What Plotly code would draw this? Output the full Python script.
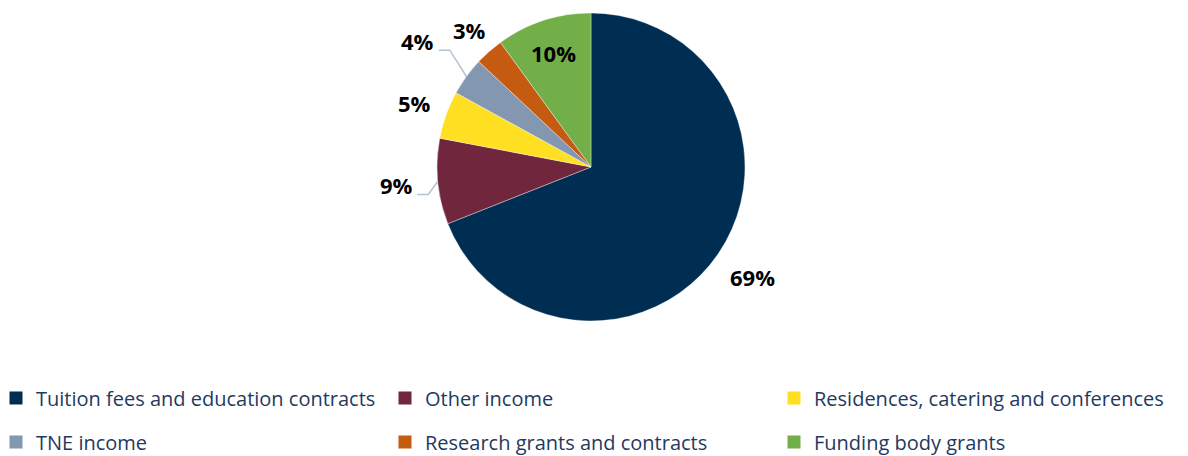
import math
import plotly.graph_objects as go

categories = ["Tuition fees and education contracts", "Other income",
              "Residences, catering and conferences", "TNE income",
              "Research grants and contracts", "Funding body grants"]
values = [69, 9, 5, 4, 3, 10]
colors = ["#002E52", "#70263D", "#FFDF22", "#8497B0", "#C55A11", "#72AF48"]

# label placement (radius factor relative to pie radius) and leader lines
label_radius = [1.27, 1.27, 1.22, 1.39, 1.19, 0.78]
has_leader = [False, True, False, True, False, False]

W, H = 1188, 456
cx, cy, r = 591, 167, 154          # pixels, from top-left

fig = go.Figure()
fig.add_trace(go.Pie(
    labels=categories, values=values, sort=False, direction="clockwise", rotation=0,
    marker=dict(colors=colors, line=dict(color="rgba(255,255,255,0.6)", width=0.6)),
    textinfo="none", showlegend=False, automargin=False,
    domain=dict(x=[(cx - r) / W, (cx + r) / W], y=[(H - cy - r) / H, (H - cy + r) / H]),
    hoverinfo="label+percent",
))

# percentage labels derived from the values
total = sum(values)
cum = 0
annotations, shapes = [], []
for v, f, lead in zip(values, label_radius, has_leader):
    theta = math.radians(360 * (cum + v / 2) / total)
    cum += v
    dx, dy = math.sin(theta), -math.cos(theta)       # screen direction (y down)
    lx, ly = cx + f * r * dx, cy + f * r * dy
    annotations.append(dict(
        x=lx / W, y=1 - ly / H, xref="paper", yref="paper", showarrow=False,
        text="<b>%d%%</b>" % round(100 * v / total),
        font=dict(family="Open Sans", size=22, color="#000000"),
        xanchor="center", yanchor="middle",
    ))
    if lead:
        sx, sy = lx + 21, ly + 9
        ex, ey = cx + r * dx, cy + r * dy
        path = "M %f,%f L %f,%f L %f,%f" % (sx / W, 1 - sy / H, (sx + 11) / W, 1 - sy / H,
                                            ex / W, 1 - ey / H)
        shapes.append(dict(type="path", path=path, xref="paper", yref="paper",
                           line=dict(color="#B4C2D2", width=1.5)))

# legend entries (two rows of three)
for i, (name, col) in enumerate(zip(categories, colors)):
    fig.add_trace(go.Scatter(
        x=[None], y=[None], mode="markers", name=name,
        marker=dict(symbol="square", size=13, color=col),
        legend="legend" if i < 3 else "legend2",
        hoverinfo="skip",
    ))

leg_common = dict(orientation="h", xanchor="left", yanchor="middle",
                  font=dict(family="Open Sans", size=20, color="#1F3A5F"),
                  entrywidth=348, entrywidthmode="pixels", indentation=-4,
                  bgcolor="rgba(0,0,0,0)", itemclick=False, itemdoubleclick=False)

fig.update_layout(
    width=W, height=H,
    margin=dict(l=0, r=0, t=0, b=0, autoexpand=False),
    paper_bgcolor="white", plot_bgcolor="white",
    xaxis=dict(visible=False), yaxis=dict(visible=False),
    legend=dict(x=0, y=1 - 398 / H, **leg_common),
    legend2=dict(x=0, y=1 - 442 / H, **leg_common),
    annotations=annotations, shapes=shapes,
)

fig.write_html("out.html", config={"displayModeBar": False},
               post_script="document.body.style.margin='0';")
